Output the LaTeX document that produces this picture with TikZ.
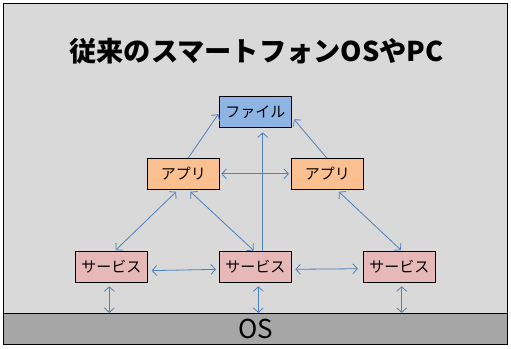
\documentclass[tikz,border=0pt]{standalone}
\usepackage{fontspec}
\setmainfont{Noto Sans CJK JP}
\usetikzlibrary{arrows.meta,calc}
\definecolor{bgc}{HTML}{D9D9D9}
\definecolor{osc}{HTML}{A6A6A6}
\definecolor{filec}{HTML}{8DB4E2}
\definecolor{appc}{HTML}{FAC090}
\definecolor{svcc}{HTML}{E6B9B8}
\definecolor{linec}{HTML}{4F81BD}
\begin{document}
\begin{tikzpicture}[x=1pt,y=-1pt,
  box/.style={draw=black,line width=0.8pt,minimum width=72pt,minimum height=31pt,inner sep=0pt,font=\fontsize{15pt}{17pt}\selectfont},
  filebox/.style={box,fill=filec},
  appbox/.style={box,fill=appc},
  svcbox/.style={box,fill=svcc},
  conn/.style={draw=linec,line width=0.8pt,-{Straight Barb[length=4.5pt,width=10pt]}},
  dconn/.style={draw=linec,line width=0.8pt,{Straight Barb[length=4.5pt,width=10pt]}-{Straight Barb[length=4.5pt,width=10pt]}}]
\useasboundingbox (0,0) rectangle (511,348);
\node[draw=black,line width=0.8pt,fill=bgc,minimum width=504pt,minimum height=340.5pt,inner sep=0pt] (frame) at (255.5,173.75) {};
\node[draw=black,line width=0.8pt,fill=osc,minimum width=504pt,minimum height=30.7pt,inner sep=0pt,font=\fontsize{26pt}{28pt}\selectfont] (os) at (255.5,328.65) {OS};
\node[font=\bfseries\fontsize{27.2pt}{29pt}\selectfont] (title) at (256.5,51.5) {従来のスマートフォンOSやPC};
\node[filebox] (file) at (255.3,112) {ファイル};
\node[appbox] (appL) at (183.3,173.8) {アプリ};
\node[appbox] (appR) at (327.3,173.8) {アプリ};
\node[svcbox] (svcL) at (111.3,266.7) {サービス};
\node[svcbox] (svcM) at (255.3,266.7) {サービス};
\node[svcbox] (svcR) at (399.3,266.7) {サービス};
\draw[conn,shorten >=1pt] ($(appL.north)+(5,0)$) -- ($(file.west)+(0,1.3)$);
\draw[conn,shorten >=3.5pt] ($(appR.north)+(-0.6,0)$) -- ($(file.east)+(0,4.7)$);
\draw[conn,shorten >=4.5pt] ($(svcM.north)+(7.4,0)$) -- ($(file.south)+(7.4,0)$);
\draw[dconn,shorten <=1.7pt,shorten >=2pt] (appL.east) -- (appR.west);
\draw[dconn,shorten <=3pt,shorten >=1pt] ($(appL.south)+(-5,0)$) -- ($(svcL.north)+(3.7,0)$);
\draw[dconn,shorten <=3pt,shorten >=0.5pt] ($(appL.south)+(5,0)$) -- ($(svcM.north)+(-1.3,0)$);
\draw[dconn,shorten <=3pt,shorten >=1pt] ($(appR.south)+(9.4,0)$) -- ($(svcR.north)+(2.4,0)$);
\draw[dconn,shorten <=4pt,shorten >=3pt] ($(svcL.east)+(0,4)$) -- ($(svcM.west)+(0,2.6)$);
\draw[dconn,shorten <=3.7pt,shorten >=5pt] ($(svcM.east)+(0,2.6)$) -- ($(svcR.west)+(0,2)$);
\coordinate (oL) at ($(svcL.south)+(-2,0)$);
\coordinate (oM) at ($(svcM.south)+(3,0)$);
\coordinate (oR) at ($(svcR.south)+(2.4,0)$);
\draw[dconn,shorten <=3.7pt] (oL) -- (oL |- os.north);
\draw[dconn,shorten <=3.7pt] (oM) -- (oM |- os.north);
\draw[dconn,shorten <=3.7pt] (oR) -- (oR |- os.north);
\end{tikzpicture}
\end{document}
